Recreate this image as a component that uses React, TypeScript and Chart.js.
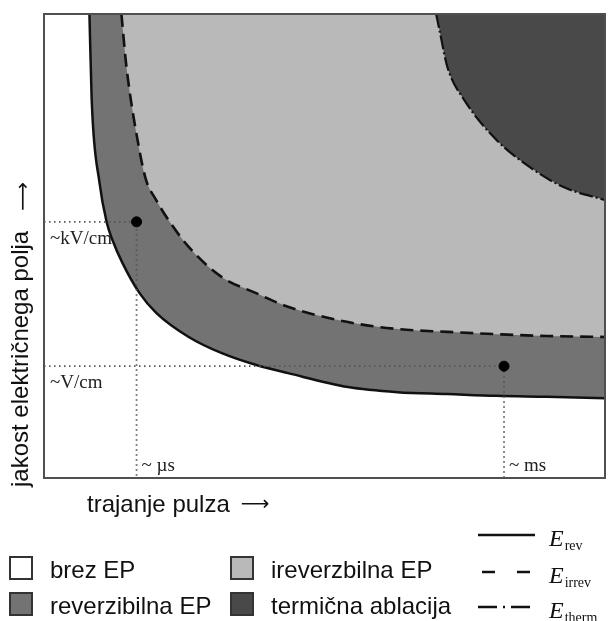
import React, { useEffect, useRef } from "react";
import { Chart, registerables } from "chart.js";
Chart.register(...registerables);

// Curve values (x: pulse duration, y: field strength, both on a 0–100 schematic scale)
const revX = [8.1, 8.5, 9.9, 11.2, 12.2, 14.0, 17.0, 20.0, 25.8, 31.7, 37.7, 43.5, 54.2, 63.0, 71.9, 80.7, 89.6, 100];
const revY = [100, 81.5, 63.6, 55.0, 51.3, 46.3, 39.9, 35.6, 30.4, 26.9, 24.4, 22.6, 19.6, 18.5, 18.1, 17.7, 17.5, 17.2];

const irrevX = [13.8, 14.7, 17.0, 18.2, 20.0, 21.8, 25.8, 31.7, 37.7, 43.5, 54.2, 63.0, 71.9, 80.7, 89.6, 100];
const irrevY = [100, 88.6, 70.7, 64.2, 59.9, 56.3, 49.8, 43.3, 39.9, 36.9, 33.6, 32.1, 31.5, 31.0, 30.6, 30.4];

const thermX = [69.9, 70.6, 71.9, 74.9, 80.7, 86.6, 92.6, 100];
const thermY = [100, 95.9, 88.6, 81.5, 72.8, 67.0, 62.7, 59.9];

// Marked points and their guide labels
const markerX = [16.5, 82.0];
const markerY = [55.2, 24.1];
const yTickLabels = ["~kV/cm", "~V/cm"];
const xTickLabels = ["~ µs", "~ ms"];

const xTitle = "trajanje pulza";
const yTitle = "jakost električnega polja";
const arrow = "⟶";

const areaLabels = ["brez EP", "reverzibilna EP", "ireverzbilna EP", "termična ablacija"];
const lineSubscripts = ["rev", "irrev", "therm"];

const C_WHITE = "#ffffff";
const C_REV = "#737373";
const C_IRREV = "#b9b9b9";
const C_THERM = "#494949";

const toPts = (xs: number[], ys: number[]) => xs.map((x, i) => ({ x, y: ys[i] }));

const SANS = "24px 'Liberation Sans', Arial, sans-serif";
const ARROW_FONT = "20px 'DejaVu Sans', sans-serif";

const decor = {
  id: "decor",
  beforeDatasetsDraw(chart: any) {
    const { ctx, chartArea, scales } = chart;
    const xs = scales.x, ys = scales.y;
    ctx.save();
    ctx.fillStyle = "#222";
    ctx.font = "19px 'Liberation Serif', serif";
    ctx.textBaseline = "alphabetic";
    ctx.textAlign = "left";
    markerY.forEach((v, i) => {
      ctx.fillText(yTickLabels[i], chartArea.left + 6, ys.getPixelForValue(v) + 22);
    });
    markerX.forEach((v, i) => {
      ctx.fillText(xTickLabels[i], xs.getPixelForValue(v) + 5, chartArea.bottom - 7);
    });
    ctx.restore();
  },
  afterDatasetsDraw(chart: any) {
    const { ctx, chartArea } = chart;
    ctx.save();
    ctx.strokeStyle = "#505050";
    ctx.lineWidth = 2;
    ctx.strokeRect(chartArea.left, chartArea.top, chartArea.right - chartArea.left, chartArea.bottom - chartArea.top);
    ctx.restore();
  },
  afterDraw(chart: any) {
    const { ctx, chartArea } = chart;
    ctx.save();
    ctx.fillStyle = "#111";
    ctx.font = SANS;
    ctx.textBaseline = "alphabetic";
    ctx.textAlign = "left";
    // x title
    const xb = chartArea.bottom + 34;
    ctx.fillText(xTitle, 87, xb);
    const xw = ctx.measureText(xTitle).width;
    ctx.font = ARROW_FONT;
    ctx.fillText(arrow, 87 + xw + 11, xb - 2);
    // y title
    ctx.save();
    ctx.translate(28, chartArea.bottom + 9);
    ctx.rotate(-Math.PI / 2);
    ctx.font = SANS;
    ctx.fillText(yTitle, 0, 0);
    const yw = ctx.measureText(yTitle).width;
    ctx.font = ARROW_FONT;
    ctx.fillText(arrow, yw + 20, 1);
    ctx.restore();

    // area legend
    const boxes = [
      { x: 10, y: 557, c: C_WHITE },
      { x: 10, y: 593, c: C_REV },
      { x: 231, y: 557, c: C_IRREV },
      { x: 231, y: 593, c: C_THERM },
    ];
    boxes.forEach((b, i) => {
      ctx.fillStyle = b.c;
      ctx.fillRect(b.x, b.y, 22, 22);
      ctx.strokeStyle = "#333";
      ctx.lineWidth = 2;
      ctx.setLineDash([]);
      ctx.strokeRect(b.x, b.y, 22, 22);
      ctx.fillStyle = "#111";
      ctx.font = SANS;
      ctx.fillText(areaLabels[i], b.x + 40, b.y + 21);
    });

    // line legend
    const ly = [535, 572, 607];
    const dashes = [[], [13, 22], [19, 6, 2, 6]];
    ly.forEach((y, i) => {
      ctx.strokeStyle = "#111";
      ctx.lineWidth = 2.5;
      ctx.setLineDash(dashes[i]);
      ctx.beginPath();
      ctx.moveTo(i === 1 ? 482 : 478, y);
      ctx.lineTo(i === 1 ? 531 : 535, y);
      ctx.stroke();
      ctx.setLineDash([]);
      ctx.fillStyle = "#111";
      ctx.font = "italic 24px 'Liberation Serif', serif";
      const base = y + 11;
      ctx.fillText("E", 549, base);
      const w = ctx.measureText("E").width;
      ctx.font = "14px 'Liberation Serif', serif";
      ctx.fillText(lineSubscripts[i], 549 + w + 1, base + 4);
    });
    ctx.restore();
  },
};

export default function App() {
  const ref = useRef<HTMLCanvasElement>(null);
  useEffect(() => {
    if (!ref.current) return;
    const guides = markerX.map((mx, i) => ({
      type: "line" as const,
      data: [
        { x: 0, y: markerY[i] },
        { x: mx, y: markerY[i] },
        { x: mx, y: 0 },
      ],
      borderColor: "#555",
      borderWidth: 1.8,
      borderDash: [1.5, 3.5],
      pointRadius: 0,
      fill: false,
      tension: 0,
      order: 0,
    }));
    const chart = new Chart(ref.current, {
      type: "line",
      data: {
        datasets: [
          {
            type: "scatter" as const,
            data: toPts(markerX, markerY),
            pointRadius: 5,
            pointBackgroundColor: "#000",
            pointBorderColor: "#000",
            showLine: false,
            order: -1,
          } as any,
          ...guides,
          {
            label: "E_therm",
            data: toPts(thermX, thermY),
            borderColor: "#111",
            borderWidth: 2.2,
            borderDash: [14, 3, 2, 3],
            backgroundColor: C_THERM,
            fill: "end",
            pointRadius: 0,
            cubicInterpolationMode: "monotone",
            order: 1,
          },
          {
            label: "E_irrev",
            data: toPts(irrevX, irrevY),
            borderColor: "#111",
            borderWidth: 2.6,
            borderDash: [13, 7],
            backgroundColor: C_IRREV,
            fill: "end",
            pointRadius: 0,
            cubicInterpolationMode: "monotone",
            order: 2,
          },
          {
            label: "E_rev",
            data: toPts(revX, revY),
            borderColor: "#111",
            borderWidth: 2.5,
            backgroundColor: C_REV,
            fill: "end",
            pointRadius: 0,
            cubicInterpolationMode: "monotone",
            order: 3,
          },
        ] as any,
      },
      options: {
        responsive: false,
        animation: false,
        devicePixelRatio: 1,
        layout: { padding: { left: 44, top: 14, right: 2, bottom: 143 } },
        scales: {
          x: { type: "linear", min: 0, max: 100, display: false },
          y: { type: "linear", min: 0, max: 100, display: false },
        },
        plugins: {
          legend: { display: false },
          tooltip: { enabled: false },
        },
      } as any,
      plugins: [decor],
    });
    return () => chart.destroy();
  }, []);
  return (
    <div style={{ position: "absolute", left: 0, top: 0, width: 611, height: 621, background: "#fff" }}>
      <canvas ref={ref} width={611} height={621} />
    </div>
  );
}
